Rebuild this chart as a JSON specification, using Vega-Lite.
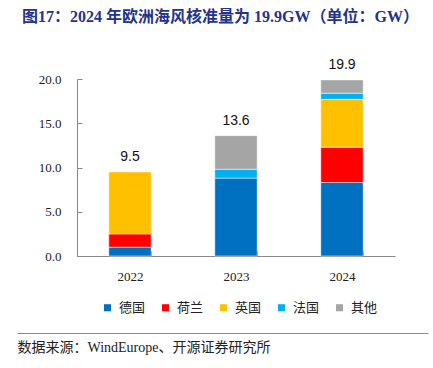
{
  "$schema": "https://vega.github.io/schema/vega-lite/v6.json",
  "padding": {"left": 17, "right": 5, "top": 8, "bottom": 5},
  "background": "white",
  "title": {
    "text": "图17：2024 年欧洲海风核准量为 19.9GW（单位：GW）",
    "anchor": "start",
    "font": "Liberation Serif, Noto Sans CJK SC",
    "fontSize": 16,
    "fontWeight": "bold",
    "color": "#24338A",
    "dx": 5,
    "offset": 33
  },
  "spacing": 49,
  "config": {"view": {"stroke": null}},
  "vconcat": [
    {
      "width": 318,
      "height": 177,
      "data": {
        "values": [
          {"year": "2022", "country": "德国", "ord": 1, "value": 1.0},
          {"year": "2022", "country": "荷兰", "ord": 2, "value": 1.5},
          {"year": "2022", "country": "英国", "ord": 3, "value": 7.0},
          {"year": "2023", "country": "德国", "ord": 1, "value": 8.8},
          {"year": "2023", "country": "法国", "ord": 4, "value": 1.0},
          {"year": "2023", "country": "其他", "ord": 5, "value": 3.8},
          {"year": "2024", "country": "德国", "ord": 1, "value": 8.3},
          {"year": "2024", "country": "荷兰", "ord": 2, "value": 4.0},
          {"year": "2024", "country": "英国", "ord": 3, "value": 5.4},
          {"year": "2024", "country": "法国", "ord": 4, "value": 0.7},
          {"year": "2024", "country": "其他", "ord": 5, "value": 1.5}
        ]
      },
      "encoding": {
        "x": {
          "field": "year",
          "type": "nominal",
          "scale": {"paddingInner": 0.6, "paddingOuter": 0.3},
          "axis": {
            "title": null,
            "labelAngle": 0,
            "tickBand": "extent",
            "tickSize": -5,
            "tickColor": "#888888",
            "domainColor": "#888888",
            "labelFont": "Liberation Serif",
            "labelFontSize": 13,
            "labelColor": "#222222",
            "labelPadding": 19
          }
        }
      },
      "layer": [
        {
          "mark": {"type": "bar", "stroke": "white", "strokeOpacity": 0.5, "strokeWidth": 1},
          "encoding": {
            "y": {
              "field": "value",
              "type": "quantitative",
              "stack": "zero",
              "scale": {"domain": [0, 20]},
              "axis": {
                "title": null,
                "values": [0, 5, 10, 15, 20],
                "format": ".1f",
                "grid": false,
                "tickSize": -5,
                "tickColor": "#888888",
                "domainColor": "#888888",
                "labelFont": "Liberation Serif",
                "labelFontSize": 13,
                "labelColor": "#222222",
                "labelPadding": 21,
                "minExtent": 60
              }
            },
            "color": {
              "field": "country",
              "type": "nominal",
              "scale": {
                "domain": ["德国", "荷兰", "英国", "法国", "其他"],
                "range": ["#0070C0", "#FF0000", "#FFC000", "#00B0F0", "#A5A5A5"]
              },
              "legend": {
                "title": null,
                "orient": "none",
                "direction": "horizontal",
                "legendX": 24,
                "legendY": 222,
                "symbolType": "square",
                "symbolSize": 50,
                "symbolStrokeWidth": 0,
                "labelFont": "Noto Sans CJK SC",
                "labelFontSize": 13,
                "labelColor": "#222222",
                "labelOffset": 5,
                "columnPadding": 13
              }
            },
            "order": {"field": "ord", "type": "quantitative"}
          }
        },
        {
          "mark": {"type": "text", "baseline": "bottom", "dy": -8, "font": "Liberation Sans", "fontSize": 14, "color": "#111111"},
          "encoding": {
            "y": {"aggregate": "sum", "field": "value", "type": "quantitative"},
            "text": {"aggregate": "sum", "field": "value", "type": "quantitative", "format": ".1f"}
          }
        }
      ]
    },
    {
      "width": 351,
      "height": 1,
      "data": {"values": [{}]},
      "mark": {"type": "rule", "opacity": 0},
      "encoding": {
        "x": {
          "datum": 0,
          "type": "quantitative",
          "scale": {"domain": [0, 1], "range": [-60, 351]},
          "axis": {
            "orient": "bottom",
            "domainColor": "#888888",
            "domainWidth": 1,
            "ticks": false,
            "labels": false,
            "grid": false,
            "title": "数据来源：WindEurope、开源证券研究所",
            "titleAnchor": "start",
            "titleAlign": "left",
            "titleFont": "Liberation Serif, Noto Sans CJK SC",
            "titleFontSize": 14,
            "titleFontWeight": "normal",
            "titleColor": "#222222",
            "titlePadding": 7
          }
        }
      }
    }
  ]
}
